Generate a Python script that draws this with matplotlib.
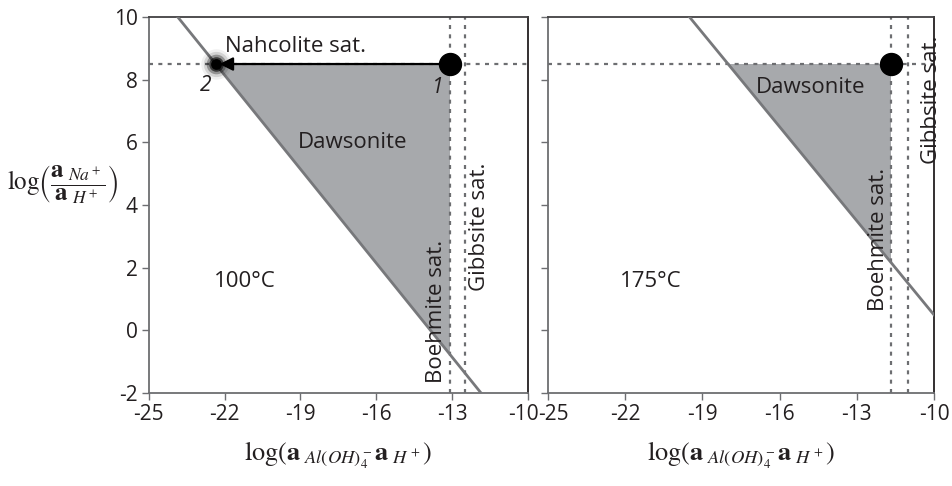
import matplotlib
matplotlib.use("Agg")
import matplotlib.pyplot as plt
import matplotlib.transforms as mtrans
import numpy as np

# ---- data ----
x_ticks = [-25, -22, -19, -16, -13, -10]
y_ticks = [-2, 0, 2, 4, 6, 8, 10]
temps = ["100°C", "175°C"]
nahcolite_y = [8.5, 8.5]          # log(aNa+/aH+) at nahcolite saturation
boehmite_x = [-13.1, -11.67]       # boehmite saturation
gibbsite_x = [-12.5, -11.0]        # gibbsite saturation
dawsonite_c = [-13.85, -9.5]       # boundary: y = -x + c
point1_x = [-13.1, -11.67]
point2_x = -22.35

plt.rcParams['font.family'] = ['Open Sans', 'DejaVu Sans']
plt.rcParams['mathtext.fontset'] = 'stix'
plt.rcParams['axes.unicode_minus'] = False

fig = plt.figure(figsize=(9.53, 4.86), dpi=100)
axL = fig.add_axes([0.156, 0.191, 0.398, 0.774])
axR = fig.add_axes([0.575, 0.191, 0.405, 0.774])

spine_col = '#6d6e71'
line_col = '#77787b'
fill_col = '#a7a9ac'
dash_col = '#6d6e71'
txt_col = '#231f20'

for i, ax in enumerate([axL, axR]):
    ax.set_xlim(-25, -10)
    ax.set_ylim(-2, 10)
    ax.set_xticks(x_ticks)
    ax.set_yticks(y_ticks)
    ax.tick_params(direction='out', length=5, width=1, color=spine_col,
                   labelsize=15, labelcolor=txt_col, pad=3)
    for s in ax.spines.values():
        s.set_color(spine_col)
        s.set_linewidth(1.3)
    ax.spines['top'].set_color('#414042')
    ax.spines['right'].set_color('#231f20')
    if i == 1:
        ax.set_yticklabels([])

    c = dawsonite_c[i]
    ny = nahcolite_y[i]
    bx = boehmite_x[i]
    gx = gibbsite_x[i]
    # dawsonite field
    x_top = c - ny
    poly_x = [x_top, bx, bx]
    poly_y = [ny, ny, -bx + c]
    ax.fill(poly_x, poly_y, color=fill_col, lw=0, zorder=1)
    # boundary line
    xs = np.array([-25, -10])
    ax.plot(xs, -xs + c, color=line_col, lw=2, zorder=3, clip_on=True)
    # dashed saturation lines
    ax.axhline(ny, color=dash_col, lw=1.6, dashes=(1.8, 2.4), zorder=2)
    ax.axvline(bx, color=dash_col, lw=1.6, dashes=(1.8, 2.4), zorder=2)
    ax.axvline(gx, color=dash_col, lw=1.6, dashes=(1.8, 2.4), zorder=2)
    # point 1
    ax.scatter([point1_x[i]], [ny], s=250, color='black', zorder=6)
    ax.text(-21.2 if i == 0 else -21.0, 1.55, temps[i], fontsize=16,
            color=txt_col, ha='center', va='center')
    ax.set_xlabel(r'$\log\!\left(\mathbf{a}_{\ Al(OH)_4^-}\mathbf{a}_{\ H^+}\right)$',
                  fontsize=19, color=txt_col, labelpad=10)

# nudge the adjoining "-10" / "-25" tick labels apart
fig.canvas.draw()
lab = axL.get_xticklabels()[-1]
lab.set_transform(lab.get_transform() + mtrans.ScaledTranslation(-5 / 100, 0, fig.dpi_scale_trans))
lab = axR.get_xticklabels()[0]
lab.set_transform(lab.get_transform() + mtrans.ScaledTranslation(5 / 100, 0, fig.dpi_scale_trans))

# left panel annotations
axL.annotate('', xy=(point2_x + 0.15, nahcolite_y[0]), xytext=(point1_x[0], nahcolite_y[0]),
             arrowprops=dict(arrowstyle='-|>', color='black', lw=1.6, mutation_scale=20,
                             shrinkA=0, shrinkB=0), zorder=5)
for s, a in [(480, 0.06), (330, 0.12), (200, 0.3), (110, 0.6), (60, 1.0)]:
    axL.scatter([point2_x], [nahcolite_y[0]], s=s, color='black', alpha=a, lw=0, zorder=6)
axL.text(-22.0, 9.05, 'Nahcolite sat.', fontsize=16, color=txt_col, ha='left', va='center')
axL.text(-22.75, 7.8, '2', fontsize=15, style='italic', color=txt_col, ha='center', va='center')
axL.text(-13.55, 7.75, '1', fontsize=15, style='italic', color=txt_col, ha='center', va='center')
axL.text(-16.95, 6.0, 'Dawsonite', fontsize=16, color=txt_col, ha='center', va='center')
axL.text(-13.6, 0.6, 'Boehmite sat.', fontsize=16, color=txt_col, rotation=90, ha='center', va='center')
axL.text(-11.9, 3.3, 'Gibbsite sat.', fontsize=16, color=txt_col, rotation=90, ha='center', va='center')

# right panel annotations
axR.text(-14.8, 7.75, 'Dawsonite', fontsize=16, color=txt_col, ha='center', va='center')
axR.text(-12.15, 2.9, 'Boehmite sat.', fontsize=16, color=txt_col, rotation=90, ha='center', va='center')
axR.text(-10.1, 7.35, 'Gibbsite sat.', fontsize=16, color=txt_col, rotation=90, ha='center', va='center')

# y label
fig.text(0.066, 0.62, r'$\log\!\left(\dfrac{\mathbf{a}_{\ Na^+}}{\mathbf{a}_{\ H^+}}\right)$',
         fontsize=18, color=txt_col, ha='center', va='center')

fig.savefig('out.png', dpi=100)
